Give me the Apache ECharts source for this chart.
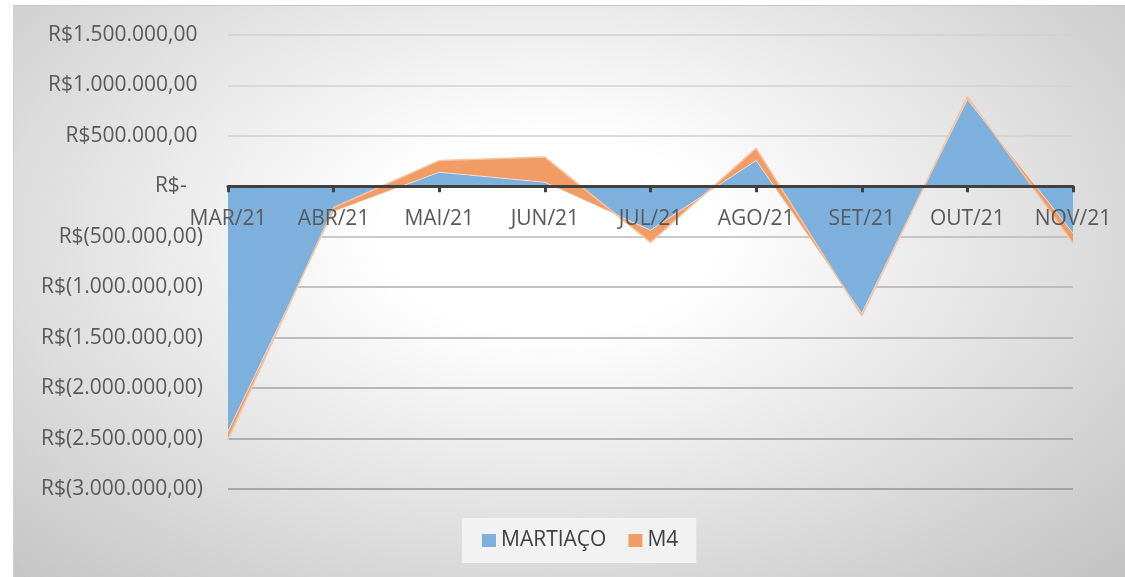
<!DOCTYPE html>
<html>
<head>
<meta charset="utf-8">
<script src="https://cdn.jsdelivr.net/npm/echarts@6/dist/echarts.min.js"></script>
<style>
  html, body { margin: 0; padding: 0; background: #ffffff; }
  #bg {
    position: absolute; left: 13px; top: 5px; width: 1112px; height: 572px;
    border-top: 1px solid #c8c8c8; border-left: 1px solid #d0d0d0;
    background: radial-gradient(ellipse farthest-corner at 48% 40%, #ffffff 0%, #ffffff 20%, #c2c2c2 100%);
  }
  #chart { position: absolute; left: 0; top: 0; width: 1125px; height: 577px; }
</style>
</head>
<body>
<div id="bg"></div>
<div id="chart"></div>
<script>
const months = ["MAR/21", "ABR/21", "MAI/21", "JUN/21", "JUL/21", "AGO/21", "SET/21", "OUT/21", "NOV/21"];
const martiaco = [-2430000, -250000, 140000, 40000, -435000, 257000, -1257000, 861000, -465000];
const m4 = [-80000, 40000, 115000, 250000, -120000, 120000, -30000, 30000, -100000];

const yMin = -3000000;
const yMax = 1500000;
const yStep = 500000;

const gridTop = 35;
const gridBottom = 88;
const gridHeight = 577 - gridTop - gridBottom;
// eixo das categorias cruza o valor zero
const zeroOffset = -gridHeight * (0 - yMin) / (yMax - yMin);

// formato contábil do Excel: R$1.000,00 / R$(1.000,00) / R$-
function brl(v) {
  if (v === 0) return "R$-   ";
  const s = Math.abs(v).toFixed(2).split(".");
  const inteiro = s[0].replace(/\B(?=(\d{3})+(?!\d))/g, ".");
  const txt = inteiro + "," + s[1];
  return v < 0 ? "R$(" + txt + ")" : "R$" + txt + " ";
}

const chart = echarts.init(document.getElementById("chart"));
chart.setOption({
  backgroundColor: "transparent",
  animation: false,
  textStyle: { fontFamily: "Open Sans" },
  grid: { left: 228, right: 52, top: gridTop, bottom: gridBottom },
  legend: {
    bottom: 14,
    left: 462,
    icon: "rect",
    itemWidth: 14,
    itemHeight: 13,
    itemGap: 22,
    padding: [12, 18, 12, 20],
    backgroundColor: "#f2f2f2",
    textStyle: { color: "#404040", fontSize: 21, fontFamily: "Open Sans" },
    data: ["MARTIAÇO", "M4"],
  },
  xAxis: {
    type: "category",
    data: months,
    boundaryGap: false,
    z: 5,
    offset: zeroOffset,
    axisLine: { onZero: false, lineStyle: { color: "#404040", width: 3 } },
    axisTick: { show: true, length: 6, lineStyle: { color: "#404040", width: 3 } },
    axisLabel: { color: "#595959", fontSize: 21, margin: 22 },
    splitLine: { show: false },
  },
  yAxis: {
    type: "value",
    min: yMin,
    max: yMax,
    interval: yStep,
    axisLine: { show: false },
    axisTick: { show: false },
    axisLabel: {
      color: "#595959",
      fontSize: 21,
      margin: 25,
      formatter: brl,
    },
    splitLine: {
      lineStyle: {
        width: 1.5,
        color: ["#959595", "#9c9c9c", "#a3a3a3", "#a8a8a8", "#b0b0b0", "#b8b8b8", "#c8c8c8", "#cfcfcf", "#d2d2d2", "#d0d0d0"],
      },
    },
  },
  series: [
    {
      name: "MARTIAÇO",
      type: "line",
      stack: "total",
      stackStrategy: "all",
      showSymbol: false,
      color: "#7DB0DD",
      lineStyle: { color: "rgba(255,255,255,0.55)", width: 1 },
      areaStyle: { color: "#7DB0DD", opacity: 1 },
      data: martiaco,
    },
    {
      name: "M4",
      type: "line",
      stack: "total",
      stackStrategy: "all",
      showSymbol: false,
      color: "#F19C65",
      lineStyle: { color: "#f7c4a0", width: 1.5 },
      areaStyle: { color: "#F19C65", opacity: 1 },
      data: m4,
    },
  ],
});
</script>
</body>
</html>
